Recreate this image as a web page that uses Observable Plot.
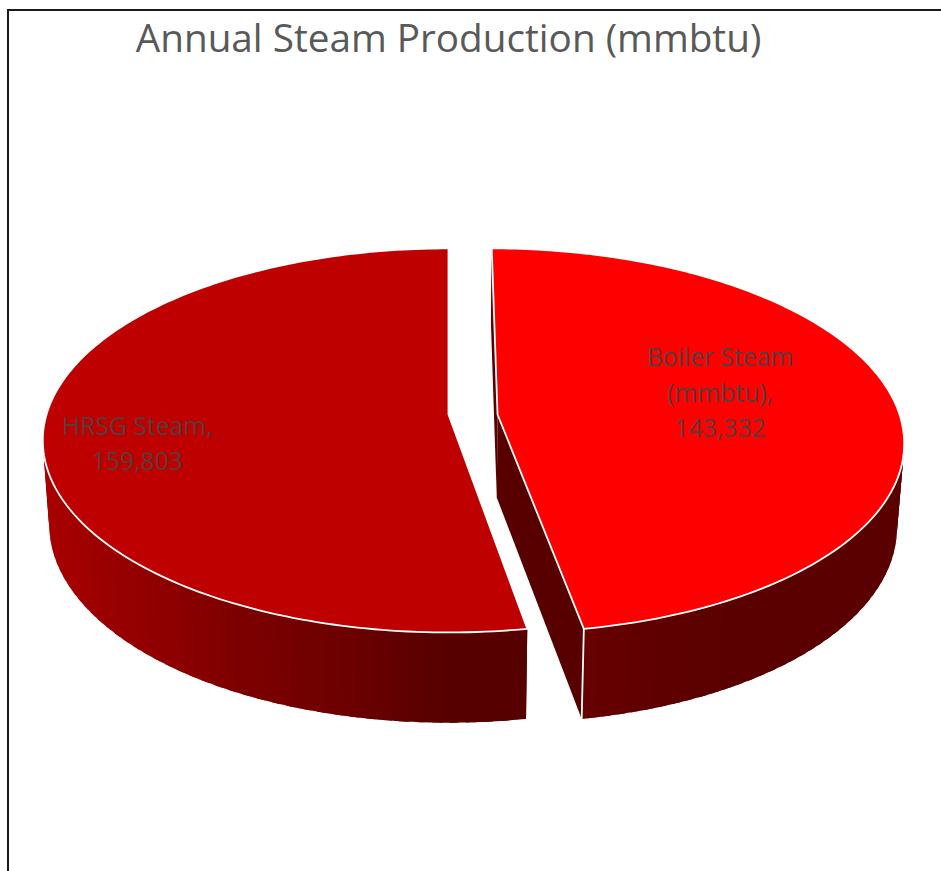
<!DOCTYPE html>
<html>
<head>
<meta charset="utf-8">
<script src="https://cdn.jsdelivr.net/npm/d3@7"></script>
<script src="https://cdn.jsdelivr.net/npm/@observablehq/plot@0.6"></script>
<style>
  html, body { margin: 0; padding: 0; background: #fff; }
  #chart { position: absolute; left: 0; top: 0; }
  #chart svg { display: block; background: transparent; }
  #frame { position: absolute; left: 7px; top: 9px; right: 0; bottom: 0; border-left: 2px solid #1a1a1a; border-top: 2px solid #1a1a1a; pointer-events: none; }
</style>
</head>
<body>
<div id="chart"></div>
<div id="frame"></div>
<script>
// Annual steam production by source
const chartTitle = "Annual Steam Production (mmbtu)";
const sources = ["Boiler Steam (mmbtu)", "HRSG Steam"];
const production = [143332, 159803];
const topColors = ["#ff0000", "#be0000"];
const rimShades = [["#680000", "#5c0000", "#5a0000", "#5a0000"], ["#a80000", "#920000", "#7c0000", "#6c0000", "#560000"]];
const cutShade = "#580000";

// Perspective of the tilted disc, in units of the pie radius
const squash = 0.469, recede = 0.135, pull = [0.122, 0];
const thickness = 0.2065, flare = 0.033, taper = 0.984;
const facets = 90;

const total = d3.sum(production);
const turns = d3.cumsum(production).map((v) => (v / total) * 2 * Math.PI);
const slices = sources.map((name, i) => ({
  name, value: production[i], index: i,
  a0: i ? turns[i - 1] : 0, a1: turns[i], offset: pull[i]
}));

// Project a disc point at polar angle a (clockwise from the back) and radius r
function upper(s, a, r = 1) {
  const w = 1 + recede * r * Math.cos(a);
  return {x: (s.offset + r * Math.sin(a)) / w, y: (-squash * r * Math.cos(a)) / w};
}
function lower(p) {
  return {x: p.x * taper, y: p.y + thickness + flare * p.y};
}
const arc = (s, n = 180) => d3.range(n + 1).map((k) => s.a0 + ((s.a1 - s.a0) * k) / n);

// Polygons for every face, listed back to front
const cutFaces = slices.flatMap((s) => [s.a0, s.a1].map((a, j) => {
  const apex = upper(s, 0, 0), rim = upper(s, a);
  return [apex, rim, lower(rim), lower(apex)].map((p) => ({...p, id: `cut-${s.index}-${j}`, fill: cutShade}));
}));

// The outer wall is a run of overlapping facets, each one flat-shaded by its position
const rimFaces = slices.flatMap((s) => {
  const shade = d3.piecewise(d3.interpolateRgb, rimShades[s.index]);
  const xs = arc(s).map((a) => upper(s, a).x);
  const cornerX = upper(s, s.a1).x;
  const [x0, x1] = s.index === 0 ? [cornerX, d3.max(xs)] : [d3.min(xs), cornerX];
  return d3.range(facets).map((k) => {
    const step = (s.a1 - s.a0) / facets;
    const b0 = s.a0 + step * k;
    const b1 = Math.min(s.a1, b0 + step * 1.6);
    const edge = d3.range(7).map((q) => upper(s, b0 + ((b1 - b0) * q) / 6));
    const t = Math.max(0, Math.min(1, (upper(s, b0 + step / 2).x - x0) / (x1 - x0)));
    const fill = d3.color(shade(t)).formatHex();
    return [...edge, ...edge.slice().reverse().map(lower)].map((p) => ({...p, id: `rim-${s.index}-${k}`, fill}));
  });
});
const topFaces = slices.map((s) => [upper(s, 0, 0), ...arc(s).map((a) => upper(s, a))]
  .map((p) => ({...p, id: `top-${s.index}`, fill: topColors[s.index]})));
const cornerRim = upper(slices[0], slices[0].a1);
const corner = [cornerRim, lower(cornerRim)];

// Data labels sit on each slice's bisector
const labelFor = (s, r) => {
  const at = upper(s, (s.a0 + s.a1) / 2, r);
  const text = `${s.name},\n${d3.format(",")(s.value)}`.replace(" (", "\n(");
  return {...at, text};
};
const labelStyle = {x: "x", y: "y", text: "text", fill: "#5a3c3c", fontSize: 24.7, lineHeight: 1.44, fontFamily: "'Open Sans', sans-serif"};

const plot = Plot.plot({
  width: 941, height: 871,
  margin: 0,
  x: {domain: [-448 / 402, 493 / 402], range: [0, 941], axis: null},
  y: {domain: [-414 / 402, 457 / 402], range: [0, 871], axis: null},
  marks: [
    Plot.line(cutFaces.flat(), {x: "x", y: "y", z: "id", fill: "fill", stroke: null, curve: "linear-closed"}),
    Plot.line(rimFaces.flat(), {x: "x", y: "y", z: "id", fill: "fill", stroke: null, curve: "linear-closed"}),
    Plot.line(topFaces.flat(), {x: "x", y: "y", z: "id", fill: "fill", stroke: "#fff", strokeWidth: 1.8, strokeLinejoin: "round", curve: "linear-closed"}),
    Plot.line(corner, {x: "x", y: "y", stroke: "#fff", strokeWidth: 1.8}),
    Plot.text([labelFor(slices[0], 0.56)], {...labelStyle, dy: -15}),
    Plot.text([labelFor(slices[1], 0.77)], {...labelStyle, dy: 14}),
    Plot.text([chartTitle], {x: () => 0, frameAnchor: "top", dy: 24, text: (d) => d, fill: "#595959", fontSize: 38.7, fontFamily: "'Open Sans', sans-serif"})
  ]
});
document.getElementById("chart").append(plot);
</script>
</body>
</html>
